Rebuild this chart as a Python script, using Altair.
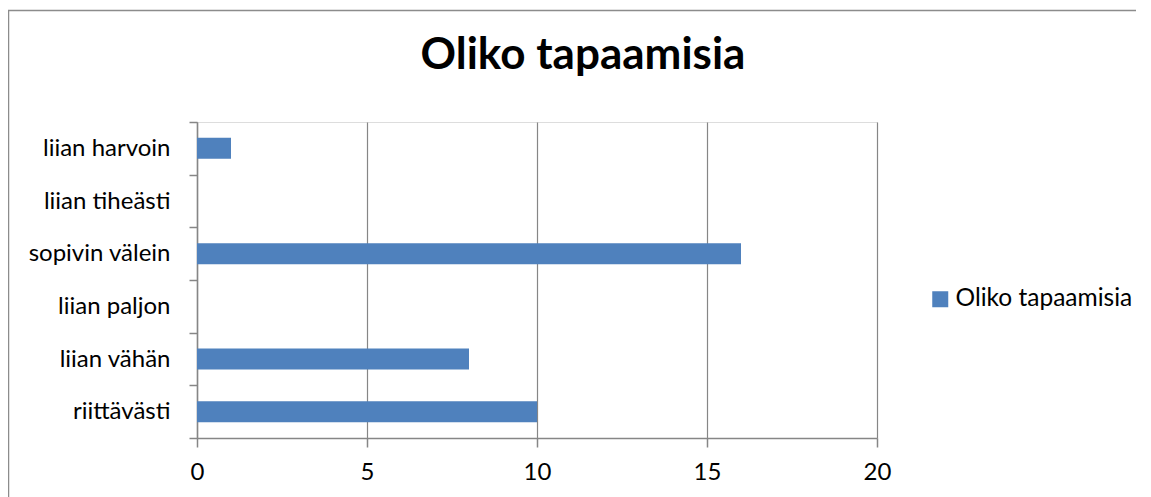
import altair as alt
import pandas as pd

categories = ["liian harvoin", "liian tiheästi", "sopivin välein", "liian paljon", "liian vähän", "riittävästi"]
values = [1, 0, 16, 0, 8, 10]
series_name = "Oliko tapaamisia"
x_ticks = [0, 5, 10, 15, 20]

df = pd.DataFrame({"kategoria": categories, "arvo": values, "sarja": [series_name] * len(categories)})

GREY = "#868686"
BLUE = "#4F81BD"
W, H = 680, 316

border = alt.Chart(pd.DataFrame({"k": [0]})).mark_rect(
    fill="transparent", stroke="#8c8c8c", strokeWidth=1.5
).encode(
    x=alt.value(-188.5), x2=alt.value(1100), y=alt.value(-111.5), y2=alt.value(600)
)

bars = alt.Chart(df).mark_bar(color=BLUE, height=alt.RelativeBandSize(0.4)).encode(
    y=alt.Y(
        "kategoria:N",
        sort=categories,
        scale=alt.Scale(paddingInner=0, paddingOuter=0),
        axis=alt.Axis(
            title=None, tickBand="extent", ticks=True, tickSize=8, tickColor=GREY,
            tickWidth=1.5, domainColor=GREY, domainWidth=1.5, labelFont="Lato",
            labelFontSize=24, labelColor="#000000", labelPadding=19, grid=False,
        ),
    ),
    x=alt.X(
        "arvo:Q",
        scale=alt.Scale(domain=[0, 20], nice=False, zero=True),
        axis=alt.Axis(
            title=None, values=x_ticks, grid=True, gridColor=GREY, gridWidth=1.2,
            gridOpacity=1, tickSize=9, tickColor=GREY, tickWidth=1.5,
            domainColor=GREY, domainWidth=1.5, labelFont="Lato", labelFontSize=24,
            labelColor="#000000", labelPadding=25, labelBaseline="middle", format="d",
            labelFlush=False,
        ),
    ),
    color=alt.Color(
        "sarja:N",
        scale=alt.Scale(range=[BLUE]),
        legend=alt.Legend(
            title=None, orient="none", legendX=731, legendY=165, symbolType="square",
            symbolSize=256, symbolStrokeWidth=0, symbolFillColor=BLUE, labelFont="Lato",
            labelFontSize=24.5, labelColor="#000000", labelOffset=3, padding=0,
            labelLimit=400,
        ),
    ),
)

chart = alt.layer(border, bars).properties(
    width=W,
    height=H,
    title=alt.TitleParams(
        series_name, font="Lato", fontSize=44, fontWeight="bold", color="#000000",
        anchor="middle", dx=46, baseline="alphabetic", offset=-103, frame="group",
    ),
    autosize=alt.AutoSizeParams(type="none"),
    padding={"left": 189, "top": 114, "right": 259, "bottom": 59},
).configure_view(stroke=None).configure(font="Lato", background="white")

chart.save("out.html", embed_options={"renderer": "svg", "actions": False})
